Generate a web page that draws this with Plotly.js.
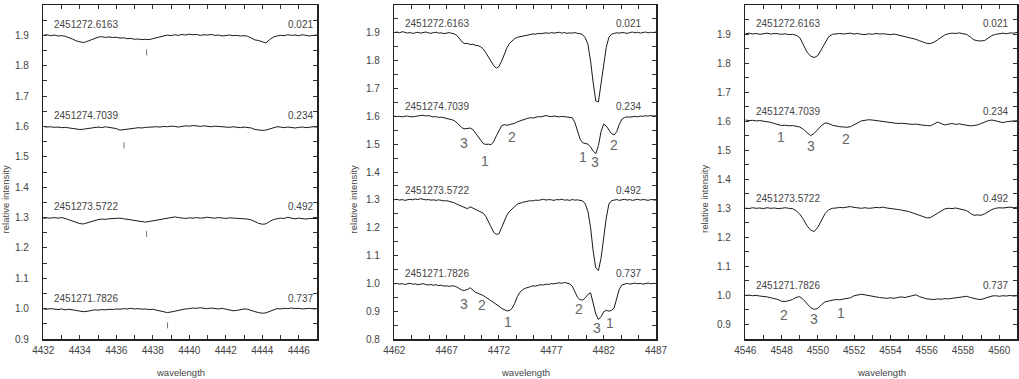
<!DOCTYPE html>
<html>
<head>
<meta charset="utf-8">
<script src="https://cdn.plot.ly/plotly-3.0.1.min.js"></script>
<style>html,body{margin:0;padding:0;background:#fff;}#chart{width:1019px;height:379px;}</style>
</head>
<body>
<div id="chart"></div>
<script>
// ---------- DATA ----------
// Spectra sampled on uniform wavelength grids (start, step)
const p1Start = 4432, p1Step = 0.2;
const p2Start = 4462, p2Step = 0.25;
const p3Start = 4546, p3Step = 0.2;

const julianDates = ['2451272.6163', '2451274.7039', '2451273.5722', '2451271.7826'];
const phases = ['0.021', '0.234', '0.492', '0.737'];
const labelLevels = [1.935, 1.635, 1.335, 1.035];

// Panel 1: 4432-4447
const p1a = [1.900,1.902,1.899,1.901,1.898,1.899,1.897,1.893,1.888,1.882,1.878,1.876,1.880,1.885,1.889,1.894,1.896,1.893,1.895,1.893,
  1.894,1.891,1.892,1.889,1.890,1.887,1.888,1.886,1.887,1.886,1.889,1.892,1.896,1.899,1.901,1.899,1.902,1.900,1.903,1.901,
  1.904,1.902,1.903,1.900,1.902,1.901,1.903,1.900,1.901,1.898,1.900,1.901,1.899,1.900,1.898,1.899,1.897,1.890,1.885,1.883,
  1.878,1.875,1.886,1.894,1.898,1.900,1.899,1.902,1.900,1.901,1.899,1.902,1.900,1.898,1.900,1.901];
const p1b = [1.600,1.598,1.599,1.597,1.598,1.596,1.597,1.595,1.593,1.592,1.590,1.591,1.593,1.595,1.597,1.598,1.596,1.599,1.597,1.596,
  1.593,1.588,1.589,1.591,1.592,1.594,1.596,1.595,1.597,1.598,1.597,1.599,1.598,1.600,1.599,1.601,1.600,1.598,1.600,1.602,
  1.601,1.603,1.602,1.600,1.602,1.601,1.599,1.601,1.600,1.598,1.599,1.597,1.599,1.598,1.596,1.598,1.597,1.595,1.590,1.588,
  1.587,1.588,1.592,1.597,1.599,1.598,1.596,1.598,1.597,1.595,1.597,1.598,1.596,1.598,1.599,1.598];
const p1c = [1.297,1.299,1.298,1.300,1.298,1.300,1.297,1.293,1.288,1.283,1.280,1.279,1.283,1.287,1.290,1.293,1.295,1.294,1.296,1.297,
  1.296,1.298,1.296,1.294,1.293,1.292,1.290,1.287,1.285,1.287,1.289,1.291,1.293,1.295,1.297,1.299,1.302,1.300,1.298,1.297,
  1.299,1.298,1.300,1.298,1.299,1.301,1.299,1.298,1.300,1.298,1.297,1.299,1.298,1.297,1.296,1.297,1.295,1.292,1.286,1.281,
  1.278,1.279,1.287,1.293,1.296,1.298,1.297,1.301,1.298,1.296,1.298,1.297,1.295,1.297,1.298,1.297];
const p1d = [0.999,0.998,1.000,0.998,0.997,0.999,0.996,0.998,0.995,0.994,0.992,0.990,0.991,0.994,0.996,0.995,0.997,0.996,0.998,0.997,
  0.999,0.998,1.000,0.999,1.001,0.999,1.000,0.998,0.999,0.997,0.998,0.995,0.992,0.990,0.987,0.989,0.992,0.995,0.997,0.999,
  1.000,1.002,1.001,1.003,1.001,1.000,1.002,1.000,0.999,1.001,0.998,0.996,0.993,0.994,0.997,0.999,0.998,0.993,0.990,0.987,
  0.985,0.986,0.991,0.997,1.000,0.999,1.001,1.000,1.002,1.000,1.001,0.999,1.000,1.001,0.999,1.000];

// Panel 2: 4462-4487
const p2a = [1.901,1.903,1.900,1.904,1.902,1.899,1.901,1.898,1.900,1.902,1.899,1.901,1.903,1.900,1.898,1.901,1.902,1.899,1.900,1.897,
  1.899,1.901,1.898,1.896,1.890,1.878,1.866,1.861,1.862,1.858,1.859,1.855,1.854,1.850,1.842,1.828,1.812,1.795,1.782,1.773,
  1.779,1.798,1.822,1.845,1.862,1.872,1.879,1.884,1.886,1.889,1.891,1.893,1.894,1.896,1.895,1.898,1.897,1.899,1.900,1.898,
  1.901,1.899,1.900,1.902,1.899,1.901,1.898,1.900,1.899,1.901,1.898,1.897,1.893,1.882,1.858,1.798,1.720,1.655,1.652,1.712,
  1.785,1.848,1.884,1.895,1.898,1.900,1.899,1.901,1.900,1.898,1.901,1.903,1.900,1.902,1.899,1.901,1.903,1.900,1.902,1.901,1.903];
const p2b = [1.601,1.599,1.600,1.598,1.600,1.601,1.599,1.598,1.600,1.602,1.603,1.604,1.601,1.603,1.600,1.598,1.599,1.596,1.597,1.594,
  1.593,1.590,1.588,1.584,1.576,1.566,1.558,1.555,1.556,1.558,1.553,1.540,1.528,1.512,1.502,1.499,1.500,1.498,1.510,1.530,
  1.550,1.566,1.570,1.568,1.570,1.572,1.575,1.580,1.584,1.588,1.590,1.593,1.595,1.594,1.597,1.599,1.598,1.601,1.603,1.600,
  1.599,1.601,1.600,1.598,1.600,1.599,1.597,1.598,1.595,1.578,1.545,1.518,1.505,1.502,1.500,1.490,1.475,1.466,1.495,1.545,
  1.572,1.565,1.550,1.538,1.533,1.545,1.572,1.590,1.596,1.598,1.597,1.599,1.600,1.598,1.601,1.600,1.602,1.601,1.603,1.601,1.602];
const p2c = [1.300,1.302,1.299,1.301,1.298,1.300,1.302,1.300,1.303,1.301,1.304,1.302,1.300,1.301,1.299,1.300,1.298,1.300,1.297,1.296,
  1.297,1.295,1.292,1.289,1.284,1.280,1.276,1.272,1.268,1.275,1.270,1.265,1.262,1.258,1.252,1.240,1.220,1.198,1.183,1.176,
  1.178,1.200,1.225,1.245,1.258,1.268,1.276,1.284,1.288,1.291,1.293,1.295,1.297,1.296,1.299,1.298,1.300,1.302,1.299,1.301,
  1.300,1.298,1.301,1.300,1.302,1.299,1.300,1.298,1.301,1.299,1.300,1.298,1.296,1.285,1.258,1.200,1.115,1.055,1.046,1.090,
  1.165,1.235,1.285,1.297,1.299,1.301,1.298,1.300,1.302,1.299,1.301,1.298,1.300,1.302,1.299,1.301,1.300,1.298,1.301,1.300,1.299];
const p2d = [0.998,1.000,0.997,0.999,0.996,0.998,1.000,0.997,0.998,0.995,0.997,0.999,0.996,0.994,0.996,0.993,0.995,0.992,0.993,0.990,
  0.991,0.989,0.991,0.990,0.986,0.979,0.975,0.975,0.978,0.984,0.976,0.968,0.964,0.961,0.956,0.950,0.944,0.937,0.930,0.924,
  0.918,0.910,0.905,0.901,0.902,0.910,0.928,0.952,0.968,0.977,0.982,0.986,0.988,0.991,0.990,0.993,0.995,0.994,0.997,0.996,
  0.999,0.998,1.000,1.002,1.000,1.003,1.001,0.998,0.990,0.968,0.950,0.941,0.940,0.948,0.960,0.966,0.930,0.890,0.870,0.880,
  0.898,0.903,0.900,0.903,0.912,0.945,0.980,0.994,0.998,1.000,0.997,0.999,1.001,0.998,1.000,0.997,0.999,1.001,0.998,1.000,0.999];

// Panel 3: 4546-4561
const p3a = [1.901,1.903,1.900,1.902,1.899,1.901,1.903,1.900,1.902,1.901,1.899,1.901,1.898,1.899,1.896,1.888,1.862,1.838,1.824,1.819,
  1.826,1.848,1.874,1.891,1.899,1.900,1.902,1.900,1.901,1.903,1.900,1.902,1.899,1.898,1.901,1.899,1.902,1.900,1.901,1.899,
  1.898,1.900,1.897,1.895,1.893,1.890,1.886,1.882,1.877,1.872,1.868,1.867,1.872,1.880,1.888,1.897,1.901,1.903,1.902,1.904,
  1.901,1.899,1.890,1.880,1.877,1.876,1.878,1.886,1.895,1.899,1.901,1.903,1.901,1.904,1.903,1.906];
const p3b = [1.604,1.602,1.603,1.601,1.602,1.600,1.599,1.596,1.592,1.588,1.585,1.586,1.584,1.585,1.583,1.580,1.572,1.561,1.550,1.558,
  1.572,1.585,1.594,1.592,1.586,1.583,1.581,1.580,1.579,1.581,1.588,1.596,1.601,1.603,1.605,1.604,1.602,1.600,1.598,1.597,
  1.595,1.594,1.592,1.593,1.591,1.590,1.589,1.590,1.587,1.586,1.585,1.584,1.590,1.597,1.592,1.587,1.590,1.592,1.589,1.591,
  1.588,1.586,1.584,1.585,1.587,1.592,1.598,1.602,1.604,1.601,1.597,1.595,1.598,1.600,1.601,1.601];
const p3c = [1.301,1.299,1.302,1.300,1.301,1.299,1.302,1.300,1.301,1.299,1.300,1.302,1.300,1.299,1.292,1.280,1.262,1.240,1.225,1.220,
  1.235,1.260,1.282,1.295,1.300,1.301,1.303,1.302,1.304,1.306,1.303,1.301,1.300,1.302,1.300,1.301,1.303,1.302,1.304,1.301,
  1.300,1.298,1.296,1.294,1.292,1.289,1.285,1.281,1.276,1.271,1.267,1.268,1.276,1.285,1.293,1.298,1.300,1.299,1.301,1.298,
  1.296,1.292,1.283,1.276,1.277,1.276,1.281,1.290,1.296,1.300,1.302,1.301,1.303,1.304,1.302,1.304];
const p3d = [1.000,1.001,0.999,1.000,0.998,0.997,0.995,0.992,0.989,0.986,0.980,0.979,0.982,0.986,0.993,0.996,0.986,0.972,0.958,0.952,
  0.956,0.968,0.978,0.981,0.983,0.986,0.985,0.988,0.990,0.992,0.999,1.002,1.004,1.002,0.999,0.997,0.995,0.993,0.991,0.990,
  0.992,0.990,0.993,0.995,0.993,0.996,0.999,1.002,0.996,0.991,0.988,0.987,0.986,0.988,0.987,0.989,0.988,0.990,0.992,0.994,
  0.996,0.997,0.993,0.989,0.987,0.986,0.990,0.996,0.998,0.999,0.997,0.999,0.998,1.000,0.998,0.999];

// Small vertical marks in panel 1
const markWl = [4437.66, 4436.42, 4437.66, 4438.81];
const markLevel = [1.844, 1.538, 1.246, 0.945];

// Component labels (1, 2, 3)
const p2CompText = ['3','1','2','1','3','2','3','2','1','2','3','1'];
const p2CompWl = [4468.65,4470.65,4473.27,4480.0,4481.22,4483.0,4468.65,4470.34,4472.82,4479.65,4481.41,4482.65];
const p2CompVal = [1.503,1.441,1.527,1.455,1.435,1.497,0.926,0.922,0.862,0.907,0.838,0.856];
const p3CompText = ['1','3','2','2','3','1'];
const p3CompWl = [4547.95,4549.6,4551.53,4548.13,4549.79,4551.26];
const p3CompVal = [1.544,1.514,1.538,0.933,0.918,0.938];

// ---------- BUILD ----------
const FONT = 'Liberation Sans, Arial, sans-serif';
const lineStyle = {color: '#1a1a1a', width: 1};

const panels = [
  {series: [p1a, p1b, p1c, p1d], x0: p1Start, dx: p1Step, xa: 'x', ya: 'y', leftWl: 4432.5, rightWl: 4446.9},
  {series: [p2a, p2b, p2c, p2d], x0: p2Start, dx: p2Step, xa: 'x2', ya: 'y2', leftWl: 4462.86, rightWl: 4485.8},
  {series: [p3a, p3b, p3c, p3d], x0: p3Start, dx: p3Step, xa: 'x3', ya: 'y3', leftWl: 4546.48, rightWl: 4560.6}
];

const traces = [];
const annotations = [];
panels.forEach(p => {
  p.series.forEach((s, k) => {
    traces.push({type: 'scatter', mode: 'lines', y: s, x0: p.x0, dx: p.dx,
      xaxis: p.xa, yaxis: p.ya, line: lineStyle, hoverinfo: 'skip', showlegend: false});
    annotations.push({xref: p.xa, yref: p.ya, x: p.leftWl, y: labelLevels[k], text: julianDates[k],
      xanchor: 'left', yanchor: 'middle', showarrow: false, font: {family: FONT, size: 10, color: '#444'}});
    annotations.push({xref: p.xa, yref: p.ya, x: p.rightWl, y: labelLevels[k], text: phases[k],
      xanchor: 'right', yanchor: 'middle', showarrow: false, font: {family: FONT, size: 10, color: '#444'}});
  });
});

// marks
const mx = [], my = [];
markWl.forEach((w, i) => { mx.push(w, w, null); my.push(markLevel[i] - 0.01, markLevel[i] + 0.01, null); });
traces.push({type: 'scatter', mode: 'lines', x: mx, y: my, xaxis: 'x', yaxis: 'y',
  line: {color: '#777', width: 1}, hoverinfo: 'skip', showlegend: false});

p2CompText.forEach((t, i) => annotations.push({xref: 'x2', yref: 'y2', x: p2CompWl[i], y: p2CompVal[i], text: t,
  showarrow: false, font: {family: FONT, size: 14, color: '#666'}}));
p3CompText.forEach((t, i) => annotations.push({xref: 'x3', yref: 'y3', x: p3CompWl[i], y: p3CompVal[i], text: t,
  showarrow: false, font: {family: FONT, size: 14, color: '#666'}}));

// axis titles
const W = 1019;
[[180, 5], [525, 353], [881.5, 704.5]].forEach(([xc, yc]) => {
  annotations.push({xref: 'paper', yref: 'paper', x: xc / W, y: -0.101, text: 'wavelength', showarrow: false,
    xanchor: 'center', yanchor: 'middle', font: {family: FONT, size: 9.5, color: '#444'}});
  annotations.push({xref: 'paper', yref: 'paper', x: yc / W, y: 0.418, text: 'relative intensity', textangle: -90,
    showarrow: false, xanchor: 'center', yanchor: 'middle', font: {family: FONT, size: 9.5, color: '#444'}});
});

function xAxis(domain, range, dtick, minorDtick, anchor) {
  return {domain: domain, range: range, tick0: range[0], dtick: dtick, ticks: 'inside', ticklen: 4,
    tickcolor: '#333', showline: true, linecolor: '#222', linewidth: 1.5, mirror: 'ticks',
    showgrid: false, zeroline: false, anchor: anchor, ticklabelstandoff: 1,
    minor: {dtick: minorDtick, tick0: range[0], ticks: 'inside', ticklen: 4, tickcolor: '#333', showgrid: false},
    tickfont: {family: FONT, size: 10, color: '#444'}};
}
function yAxis(range, anchor) {
  return {domain: [0, 1], range: range, tick0: 0, dtick: 0.1, tickformat: '.1f', ticks: 'inside', ticklen: 4,
    tickcolor: '#333', showline: true, linecolor: '#222', linewidth: 1.5, mirror: 'ticks',
    showgrid: false, zeroline: false, anchor: anchor, ticklabelstandoff: 11,
    minor: {dtick: 0.05, tick0: 0, ticks: 'inside', ticklen: 4, tickcolor: '#333', showgrid: false},
    tickfont: {family: FONT, size: 10, color: '#444'}};
}

const layout = {
  width: 1019, height: 379,
  margin: {l: 0, r: 0, t: 5, b: 40},
  paper_bgcolor: '#fff', plot_bgcolor: '#fff',
  showlegend: false,
  xaxis: xAxis([43.3 / W, 317 / W], [4432, 4447], 2, 1, 'y'),
  yaxis: yAxis([0.9, 2.0], 'x'),
  xaxis2: xAxis([394.3 / W, 656 / W], [4462, 4487], 5, 5 / 3, 'y2'),
  yaxis2: yAxis([0.8, 2.0], 'x2'),
  xaxis3: xAxis([745.3 / W, 1017.4 / W], [4546, 4561], 2, 1, 'y3'),
  yaxis3: yAxis([0.85, 2.0], 'x3'),
  annotations: annotations
};

Plotly.newPlot('chart', traces, layout, {staticPlot: true, displayModeBar: false});
</script>
</body>
</html>
